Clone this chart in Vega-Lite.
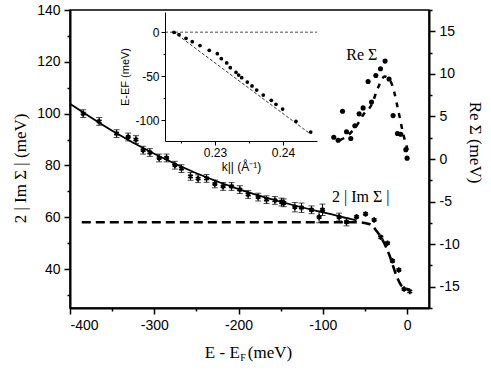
{
  "$schema": "https://vega.github.io/schema/vega-lite/v6.json",
  "width": 359,
  "height": 298,
  "autosize": {"type": "none"},
  "padding": {"left": 70, "top": 10, "right": 62, "bottom": 68},
  "config": {
    "view": {"stroke": "black", "strokeWidth": 1.5},
    "axis": {
      "grid": false,
      "domainColor": "black",
      "tickColor": "black",
      "labelColor": "black",
      "titleColor": "black",
      "labelFont": "Liberation Sans",
      "titleFont": "Liberation Serif",
      "titleFontWeight": "normal",
      "domainWidth": 2,
      "tickWidth": 1.5
    }
  },
  "datasets": {
    "im": [
      {"E": -384.3, "Im": 100.0, "err": 1.5},
      {"E": -365.4, "Im": 97.0, "err": 1.5},
      {"E": -344.7, "Im": 92.3, "err": 1.5},
      {"E": -331.0, "Im": 91.0, "err": 1.5},
      {"E": -321.8, "Im": 90.0, "err": 1.5},
      {"E": -313.2, "Im": 85.9, "err": 1.5},
      {"E": -305.2, "Im": 85.0, "err": 1.5},
      {"E": -294.2, "Im": 82.9, "err": 1.5},
      {"E": -285.4, "Im": 82.9, "err": 1.5},
      {"E": -275.6, "Im": 80.1, "err": 1.5},
      {"E": -267.7, "Im": 78.8, "err": 1.5},
      {"E": -257.0, "Im": 75.8, "err": 1.5},
      {"E": -248.0, "Im": 74.9, "err": 1.5},
      {"E": -238.0, "Im": 75.0, "err": 1.5},
      {"E": -228.1, "Im": 72.9, "err": 1.5},
      {"E": -218.3, "Im": 71.9, "err": 1.5},
      {"E": -208.3, "Im": 71.9, "err": 1.5},
      {"E": -198.5, "Im": 70.7, "err": 1.5},
      {"E": -188.6, "Im": 68.8, "err": 1.5},
      {"E": -176.7, "Im": 67.8, "err": 1.5},
      {"E": -166.8, "Im": 66.8, "err": 1.5},
      {"E": -156.9, "Im": 66.5, "err": 1.5},
      {"E": -149.0, "Im": 65.9, "err": 1.5},
      {"E": -146.3, "Im": 65.6, "err": 1.5},
      {"E": -133.2, "Im": 63.9, "err": 1.8},
      {"E": -125.3, "Im": 63.7, "err": 1.8},
      {"E": -113.4, "Im": 62.9, "err": 1.5},
      {"E": -100.4, "Im": 62.9, "err": 2.2},
      {"E": -104.4, "Im": 60.1, "err": 2.2},
      {"E": -80.7, "Im": 60.1, "err": 1.5},
      {"E": -71.9, "Im": 58.2, "err": 1.5}
    ],
    "im2": [
      {"E": -60.0, "Im": 60.2},
      {"E": -49.3, "Im": 61.3},
      {"E": -39.1, "Im": 59.0},
      {"E": -31.2, "Im": 52.3},
      {"E": -23.3, "Im": 50.0},
      {"E": -17.3, "Im": 43.2},
      {"E": -9.8, "Im": 39.7},
      {"E": -3.6, "Im": 32.3},
      {"E": 3.2, "Im": 31.4}
    ],
    "imfit": [
      {"E": -400, "Im": 103.8},
      {"E": -350, "Im": 93.4},
      {"E": -300, "Im": 84.5},
      {"E": -250, "Im": 77.0},
      {"E": -200, "Im": 70.9},
      {"E": -150, "Im": 66.0},
      {"E": -100, "Im": 61.9},
      {"E": -80, "Im": 60.4},
      {"E": -60, "Im": 58.8}
    ],
    "immodel": [
      {"E": -386, "Im": 58.1},
      {"E": -58, "Im": 58.1},
      {"E": -44, "Im": 57.3},
      {"E": -36, "Im": 54.6},
      {"E": -29, "Im": 51.2},
      {"E": -20.5, "Im": 45.0},
      {"E": -13.4, "Im": 38.1},
      {"E": -6.3, "Im": 33.5},
      {"E": 3.2, "Im": 32.0}
    ],
    "imlabel": [
      {"E": -55, "Im": 67.8, "label": "2 | Im Σ |"}
    ],
    "re": [
      {"E": -87.0, "Re": 2.55},
      {"E": -81.8, "Re": 2.2},
      {"E": -76.6, "Re": 5.6},
      {"E": -71.9, "Re": 3.2},
      {"E": -66.8, "Re": 2.4},
      {"E": -62.0, "Re": 3.9},
      {"E": -56.9, "Re": 5.3},
      {"E": -52.2, "Re": 6.0},
      {"E": -46.3, "Re": 9.1},
      {"E": -42.2, "Re": 6.7},
      {"E": -37.1, "Re": 9.8},
      {"E": -31.6, "Re": 10.6},
      {"E": -26.1, "Re": 11.5},
      {"E": -21.4, "Re": 9.4},
      {"E": -16.6, "Re": 5.1},
      {"E": -11.4, "Re": 3.0},
      {"E": -7.5, "Re": 2.9},
      {"E": -1.5, "Re": 1.1},
      {"E": 0.0, "Re": 0.1}
    ],
    "remodel": [
      {"E": -80, "Re": 2.2},
      {"E": -70, "Re": 2.8},
      {"E": -60, "Re": 3.9},
      {"E": -52, "Re": 5.2},
      {"E": -42, "Re": 6.4},
      {"E": -34.4, "Re": 8.4},
      {"E": -26.5, "Re": 9.7},
      {"E": -20, "Re": 9.2},
      {"E": -15.4, "Re": 7.9},
      {"E": -10.7, "Re": 5.8},
      {"E": -4.7, "Re": 3.0},
      {"E": 1.2, "Re": 0.9}
    ],
    "mdc": [
      {"k": 0.22397, "E": 0.0},
      {"k": 0.22471, "E": -2.7},
      {"k": 0.22574, "E": -6.9},
      {"k": 0.22666, "E": -10.7},
      {"k": 0.22779, "E": -15.2},
      {"k": 0.22916, "E": -20.6},
      {"k": 0.23034, "E": -24.4},
      {"k": 0.23093, "E": -30.1},
      {"k": 0.23172, "E": -35.0},
      {"k": 0.23225, "E": -40.3},
      {"k": 0.23309, "E": -45.6},
      {"k": 0.23348, "E": -48.7},
      {"k": 0.23393, "E": -51.7},
      {"k": 0.23475, "E": -56.7},
      {"k": 0.23544, "E": -61.2},
      {"k": 0.23613, "E": -65.8},
      {"k": 0.2371, "E": -71.5},
      {"k": 0.23828, "E": -77.6},
      {"k": 0.23897, "E": -82.1},
      {"k": 0.23995, "E": -87.5},
      {"k": 0.24191, "E": -101.5},
      {"k": 0.24407, "E": -113.7}
    ],
    "bare": [
      {"k": 0.22397, "E": 0.0},
      {"k": 0.2438, "E": -114.6}
    ],
    "zero": [
      {"k": 0.22265, "E": 0.0},
      {"k": 0.245, "E": 0.0}
    ]
  },
  "layer": [
    {
      "encoding": {
        "x": {
          "field": "E", "type": "quantitative",
          "scale": {"domain": [-400, 26], "nice": false, "zero": false},
          "axis": {
            "orient": "bottom",
            "values": [-400, -350, -300, -250, -200, -150, -100, -50, 0],
            "labelExpr": "datum.value % 100 === 0 ? '' + datum.value : ''",
            "tickSize": {"condition": {"test": "datum.value % 100 !== 0", "value": 3}, "value": 6},
            "labelFontSize": 14,
            "labelPadding": 4,
            "title": null
          }
        },
        "y": {
          "field": "Im", "type": "quantitative",
          "scale": {"domain": [25, 140], "nice": false, "zero": false},
          "axis": {
            "orient": "left",
            "values": [30, 40, 50, 60, 70, 80, 90, 100, 110, 120, 130, 140],
            "labelExpr": "datum.value % 20 === 0 ? '' + datum.value : ''",
            "tickSize": {"condition": {"test": "datum.value % 20 !== 0", "value": 3}, "value": 6},
            "labelFontSize": 14,
            "labelPadding": 4,
            "title": "2 | Im Σ | (meV)",
            "titleFontSize": 17,
            "titlePadding": 7,
            "titleY": 158
          }
        }
      },
      "layer": [
        {"data": {"name": "imfit"}, "mark": {"type": "line", "color": "black", "strokeWidth": 1.8, "interpolate": "monotone"}},
        {"data": {"name": "immodel"}, "mark": {"type": "line", "color": "black", "strokeWidth": 2.6, "strokeDash": [9, 5], "interpolate": "monotone"}},
        {"data": {"name": "im"}, "mark": {"type": "errorbar", "ticks": {"size": 6}, "color": "black", "thickness": 1}, "encoding": {"yError": {"field": "err"}}},
        {"data": {"name": "im"}, "mark": {"type": "point", "shape": "M0,-1L0,1M-0.87,-0.5L0.87,0.5M-0.87,0.5L0.87,-0.5", "filled": false, "stroke": "black", "strokeWidth": 1.8, "size": 30, "opacity": 1}},
        {"data": {"name": "im2"}, "mark": {"type": "point", "shape": "M0,-1L0,1M-0.87,-0.5L0.87,0.5M-0.87,0.5L0.87,-0.5", "filled": false, "stroke": "black", "strokeWidth": 1.8, "size": 30, "opacity": 1}},
        {"data": {"name": "imlabel"}, "mark": {"type": "text", "font": "Liberation Serif", "fontSize": 16, "align": "center", "baseline": "middle", "fill": "black"}, "encoding": {"text": {"field": "label"}}}
      ]
    },
    {
      "encoding": {
        "x": {"field": "E", "type": "quantitative", "scale": {"domain": [-400, 26], "nice": false, "zero": false}, "axis": null},
        "y": {
          "field": "Re", "type": "quantitative",
          "scale": {"domain": [-17.5, 17.5], "nice": false, "zero": false},
          "axis": {
            "orient": "right",
            "values": [-17.5, -15, -12.5, -10, -7.5, -5, -2.5, 0, 2.5, 5, 7.5, 10, 12.5, 15, 17.5],
            "labelExpr": "datum.value % 5 === 0 ? '' + datum.value : ''",
            "tickSize": {"condition": {"test": "datum.value % 5 !== 0", "value": 3}, "value": 6},
            "labelFontSize": 14,
            "labelPadding": 4,
            "title": "Re Σ (meV)",
            "titleFontSize": 17,
            "titleAngle": 90,
            "titlePadding": 6,
            "titleY": 132
          }
        }
      },
      "layer": [
        {"data": {"name": "remodel"}, "mark": {"type": "line", "color": "black", "strokeWidth": 2.5, "strokeDash": [5, 6], "interpolate": "monotone"}},
        {"data": {"name": "re"}, "mark": {"type": "circle", "color": "black", "size": 26, "opacity": 1}}
      ]
    },
    {
      "data": {"values": [{"n": 1}]},
      "mark": {"type": "text", "font": "Liberation Serif", "fontSize": 16, "align": "center", "baseline": "middle", "fill": "black", "text": "Re Σ"},
      "encoding": {
        "x": {"datum": -53.7, "type": "quantitative", "scale": {"domain": [-400, 26], "nice": false, "zero": false}, "axis": null},
        "y": {"datum": 12.2, "type": "quantitative", "scale": {"domain": [-17.5, 17.5], "nice": false, "zero": false}, "axis": null}
      }
    },
    {
      "data": {"values": [{"n": 1}]},
      "mark": {"type": "text", "font": "Liberation Serif", "fontSize": 17, "align": "right", "baseline": "alphabetic", "fill": "black", "text": "E - E"},
      "encoding": {
        "x": {"datum": -198.5, "type": "quantitative", "scale": {"domain": [-400, 26], "nice": false, "zero": false}, "axis": null},
        "y": {"datum": 5.8, "type": "quantitative", "scale": {"domain": [25, 140], "nice": false, "zero": false}, "axis": null}
      }
    },
    {
      "data": {"values": [{"n": 1}]},
      "mark": {"type": "text", "font": "Liberation Serif", "fontSize": 10, "align": "left", "baseline": "alphabetic", "dx": 0.5, "dy": 3, "fill": "black", "text": "F"},
      "encoding": {
        "x": {"datum": -198.5, "type": "quantitative", "scale": {"domain": [-400, 26], "nice": false, "zero": false}, "axis": null},
        "y": {"datum": 5.8, "type": "quantitative", "scale": {"domain": [25, 140], "nice": false, "zero": false}, "axis": null}
      }
    },
    {
      "data": {"values": [{"n": 1}]},
      "mark": {"type": "text", "font": "Liberation Serif", "fontSize": 17, "align": "left", "baseline": "alphabetic", "dx": 8, "fill": "black", "text": "(meV)"},
      "encoding": {
        "x": {"datum": -198.5, "type": "quantitative", "scale": {"domain": [-400, 26], "nice": false, "zero": false}, "axis": null},
        "y": {"datum": 5.8, "type": "quantitative", "scale": {"domain": [25, 140], "nice": false, "zero": false}, "axis": null}
      }
    },
    {
      "encoding": {
        "x": {
          "field": "k", "type": "quantitative",
          "scale": {"domain": [0.22265, 0.245], "range": [95, 247], "nice": false, "zero": false},
          "axis": {
            "orient": "bottom",
            "offset": -167,
            "zindex": 1,
            "values": [0.225, 0.23, 0.235, 0.24],
            "labelExpr": "abs(datum.value * 100 - round(datum.value * 100)) < 0.0001 ? format(datum.value, '.2f') : ''",
            "tickSize": {"condition": {"test": "abs(datum.value * 100 - round(datum.value * 100)) > 0.0001", "value": 2}, "value": 4},
            "domainWidth": 1,
            "tickWidth": 1,
            "labelFontSize": 12,
            "labelPadding": 2,
            "title": "k|| (Å⁻¹)",
            "titleFont": "Liberation Sans",
            "titleFontSize": 12,
            "titlePadding": 3
          }
        },
        "y": {
          "field": "E", "type": "quantitative",
          "scale": {"domain": [-123.9, 23.1], "range": [131, 2], "nice": false, "zero": false},
          "axis": {
            "orient": "left",
            "offset": -95,
            "zindex": 1,
            "values": [-100, -75, -50, -25, 0],
            "labelExpr": "datum.value % 50 === 0 ? '' + datum.value : ''",
            "tickSize": {"condition": {"test": "datum.value % 50 !== 0", "value": 2}, "value": 4},
            "domainWidth": 1,
            "tickWidth": 1,
            "labelFontSize": 12,
            "labelPadding": 2,
            "title": "E-EF (meV)",
            "titleFont": "Liberation Sans",
            "titleFontSize": 11,
            "titlePadding": 4
          }
        }
      },
      "layer": [
        {"data": {"values": [{"n": 1}]}, "mark": {"type": "rect", "fill": "white", "stroke": "#333333", "strokeWidth": 1}, "encoding": {"x": {"datum": 0.22265}, "x2": {"datum": 0.245}, "y": {"datum": -123.9}, "y2": {"datum": 23.1}}},
        {"data": {"name": "zero"}, "mark": {"type": "line", "color": "#888888", "strokeWidth": 1.5, "strokeDash": [3, 2]}},
        {"data": {"name": "bare"}, "mark": {"type": "line", "color": "#333333", "strokeWidth": 1, "strokeDash": [3, 2]}},
        {"data": {"name": "mdc"}, "mark": {"type": "circle", "color": "black", "size": 14, "opacity": 1}}
      ]
    }
  ],
  "resolve": {
    "scale": {"x": "independent", "y": "independent"},
    "axis": {"x": "independent", "y": "independent"}
  }
}
